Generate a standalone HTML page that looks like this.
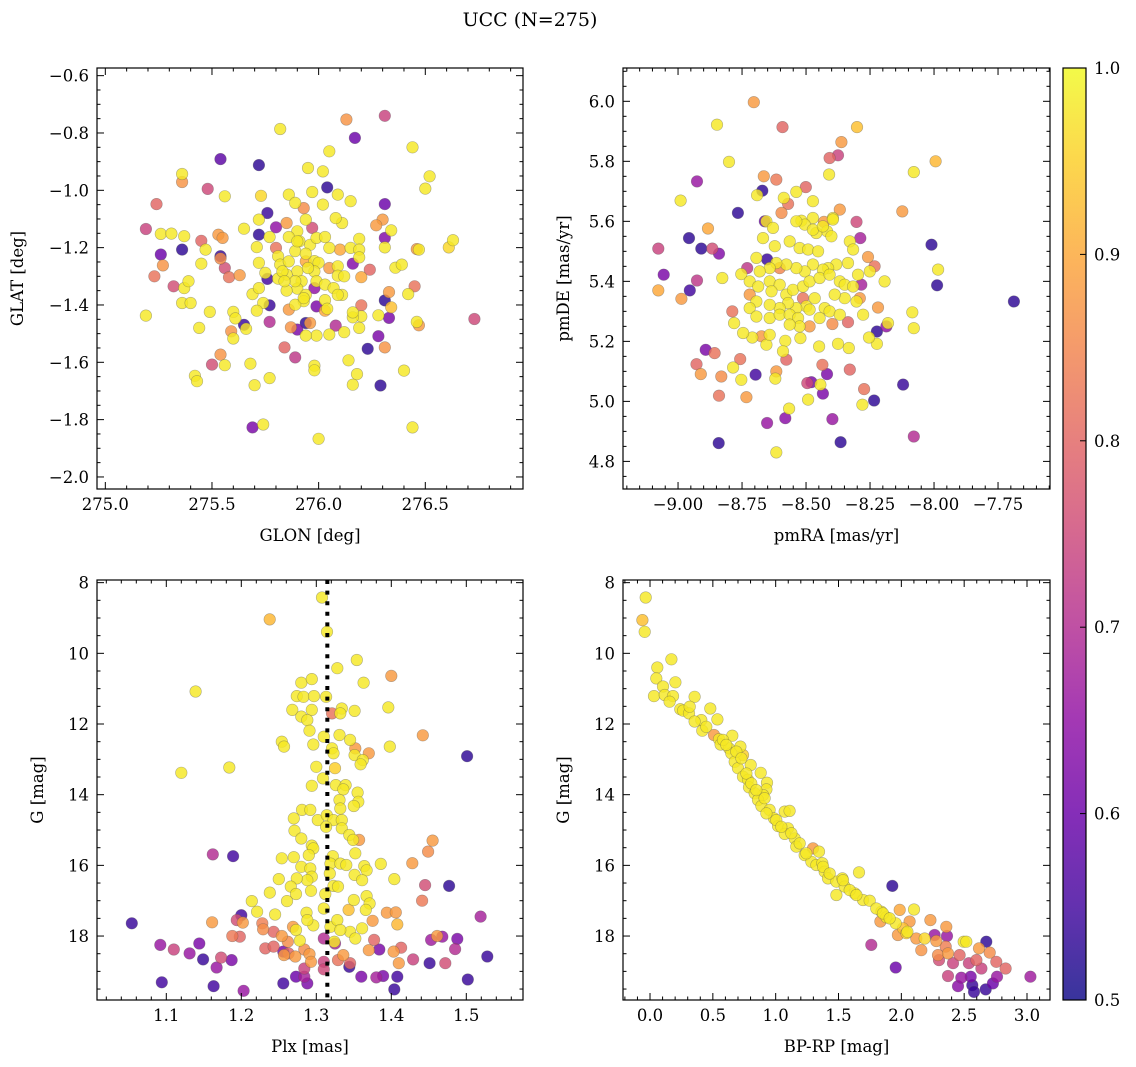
<!DOCTYPE html>
<html><head><meta charset="utf-8"><style>
html,body{margin:0;padding:0;background:#fff;}
svg{display:block;font-family:"DejaVu Serif","Liberation Serif",serif;}
</style></head><body>
<svg id="fig" width="1136" height="1067" viewBox="0 0 1136 1067" xmlns="http://www.w3.org/2000/svg">
<defs>
<linearGradient id="cbg" x1="0" y1="1" x2="0" y2="0">
<stop offset="0" stop-color="#0d0887"/><stop offset="0.1" stop-color="#41049d"/><stop offset="0.2" stop-color="#6a00a8"/><stop offset="0.3" stop-color="#8f0da4"/><stop offset="0.4" stop-color="#b12a90"/><stop offset="0.5" stop-color="#cc4778"/><stop offset="0.6" stop-color="#e16462"/><stop offset="0.7" stop-color="#f2844b"/><stop offset="0.8" stop-color="#fca636"/><stop offset="0.9" stop-color="#fcce25"/><stop offset="1" stop-color="#f0f921"/>
</linearGradient>
</defs>
<text x="530" y="26" text-anchor="middle" font-size="19">UCC (N=275)</text>
</svg>
<script>
const p1GLON=[276.31,276.13,275.82,276.17,276.44,276.05,275.54,275.72,275.95,276.02,276.52,275.36,275.36,276.50,275.48,276.04,275.56,275.73,275.86,275.97,276.09,276.15,276.31,275.24,275.89,276.02,275.76,275.93,275.94,276.11,276.08,276.30,276.27,276.34,275.72,275.65,275.19,275.26,275.31,275.37,275.53,275.55,275.72,275.80,275.85,275.90,275.97,276.31,276.31,276.19,276.46,276.47,276.63,276.61,275.45,275.47,275.26,275.36,275.54,275.54,275.71,275.77,275.80,275.81,275.86,275.91,275.96,275.99,276.03,276.05,276.10,276.15,276.19,276.19,276.16,275.27,275.45,275.56,275.58,275.63,275.72,275.75,275.76,275.82,275.86,275.89,275.94,275.98,276.00,276.05,276.09,275.98,275.90,275.85,275.81,275.92,275.99,276.09,276.12,276.20,276.24,276.36,276.39,275.23,275.32,275.37,275.39,276.03,276.07,276.11,276.09,275.90,275.94,275.98,275.85,275.69,275.72,276.03,275.99,275.93,275.89,275.86,275.74,275.77,275.71,276.03,276.04,276.45,276.42,276.33,276.31,276.34,276.33,276.28,276.31,276.23,276.28,276.20,276.20,276.16,276.16,276.19,276.12,276.08,276.05,275.99,275.94,275.96,275.94,275.90,275.87,275.77,275.65,275.66,275.60,275.61,275.59,275.60,275.49,275.44,275.19,275.36,275.40,276.46,276.47,276.73,275.84,275.89,275.98,275.98,276.14,275.54,275.50,275.56,275.68,275.42,275.43,275.77,275.70,276.18,276.16,276.29,276.40,275.69,275.74,276.44,276.00,275.90,275.94,275.83,275.95,275.89,275.93,275.84,275.98,275.88];
const p1GLAT=[-0.740,-0.753,-0.786,-0.817,-0.850,-0.864,-0.891,-0.912,-0.922,-0.934,-0.951,-0.943,-0.971,-0.994,-0.995,-0.990,-1.021,-1.019,-1.015,-1.006,-1.015,-1.038,-1.048,-1.048,-1.044,-1.050,-1.079,-1.062,-1.102,-1.114,-1.097,-1.102,-1.122,-1.140,-1.102,-1.134,-1.135,-1.152,-1.151,-1.160,-1.155,-1.166,-1.155,-1.129,-1.114,-1.143,-1.131,-1.166,-1.199,-1.169,-1.205,-1.207,-1.174,-1.199,-1.176,-1.207,-1.224,-1.207,-1.230,-1.238,-1.198,-1.163,-1.201,-1.230,-1.163,-1.178,-1.190,-1.166,-1.163,-1.201,-1.207,-1.201,-1.207,-1.234,-1.256,-1.262,-1.256,-1.271,-1.303,-1.296,-1.253,-1.288,-1.309,-1.259,-1.248,-1.212,-1.248,-1.247,-1.253,-1.271,-1.265,-1.283,-1.283,-1.294,-1.308,-1.317,-1.317,-1.298,-1.300,-1.303,-1.277,-1.270,-1.259,-1.300,-1.335,-1.341,-1.317,-1.329,-1.341,-1.365,-1.365,-1.343,-1.365,-1.341,-1.350,-1.362,-1.341,-1.383,-1.405,-1.387,-1.399,-1.416,-1.393,-1.401,-1.420,-1.420,-1.413,-1.335,-1.362,-1.355,-1.384,-1.408,-1.445,-1.509,-1.548,-1.553,-1.436,-1.401,-1.440,-1.443,-1.426,-1.480,-1.495,-1.472,-1.503,-1.507,-1.507,-1.463,-1.463,-1.486,-1.478,-1.459,-1.469,-1.483,-1.424,-1.447,-1.492,-1.517,-1.424,-1.480,-1.437,-1.393,-1.393,-1.459,-1.471,-1.449,-1.548,-1.583,-1.612,-1.628,-1.593,-1.573,-1.608,-1.610,-1.605,-1.647,-1.666,-1.655,-1.680,-1.641,-1.678,-1.681,-1.629,-1.827,-1.817,-1.827,-1.867,-1.178,-1.221,-1.283,-1.271,-1.317,-1.376,-1.317,-1.376,-1.376];
const p1Prob=[0.74,0.87,0.98,0.60,0.98,0.98,0.58,0.53,0.98,0.98,0.98,0.98,0.87,0.98,0.75,0.53,0.98,0.96,0.98,0.98,0.98,0.98,0.60,0.80,0.98,0.98,0.54,0.86,0.98,0.98,0.98,0.88,0.88,0.98,0.98,0.98,0.74,0.98,0.98,0.98,0.88,0.88,0.53,0.65,0.88,0.98,0.76,0.63,0.98,0.98,0.88,0.98,0.98,0.96,0.80,0.98,0.60,0.53,0.54,0.86,0.98,0.98,0.82,0.98,0.98,0.98,0.98,0.98,0.98,0.98,0.90,0.98,0.98,0.98,0.63,0.87,0.98,0.76,0.82,0.88,0.98,0.98,0.55,0.98,0.98,0.98,0.90,0.98,0.98,0.88,0.98,0.98,0.98,0.98,0.98,0.98,0.98,0.98,0.98,0.90,0.80,0.98,0.98,0.82,0.76,0.98,0.98,0.98,0.98,0.98,0.98,0.98,0.98,0.65,0.98,0.98,0.98,0.98,0.62,0.98,0.98,0.88,0.98,0.54,0.98,0.90,0.98,0.82,0.98,0.88,0.53,0.93,0.62,0.62,0.87,0.53,0.98,0.82,0.98,0.98,0.98,0.98,0.98,0.70,0.98,0.98,0.98,0.88,0.53,0.62,0.87,0.70,0.54,0.98,0.98,0.98,0.87,0.98,0.98,0.98,0.98,0.98,0.98,0.98,0.88,0.75,0.80,0.72,0.98,0.98,0.98,0.87,0.76,0.98,0.98,0.98,0.98,0.98,0.98,0.98,0.98,0.53,0.98,0.62,0.98,0.98,0.98,0.98,0.98,0.98,0.98,0.98,0.98,0.98];

const p2RA=[-8.704,-8.848,-8.592,-8.301,-8.362,-8.408,-8.375,-8.801,-7.994,-8.079,-8.41,-8.926,-8.665,-8.616,-8.671,-8.691,-8.538,-8.501,-8.587,-8.57,-8.473,-8.990,-8.368,-8.124,-8.766,-8.596,-8.661,-8.518,-8.473,-8.395,-8.303,-8.43,-8.883,-8.957,-9.077,-8.909,-8.866,-8.840,-8.01,-7.984,-7.988,-7.688,-9.056,-8.926,-9.077,-8.954,-8.987,-8.827,-8.753,-8.730,-8.652,-8.193,-8.219,-8.258,-8.232,-8.288,-8.085,-8.079,-8.18,-8.223,-8.186,-8.223,-8.254,-8.277,-8.336,-8.397,-8.333,-8.375,-8.449,-8.522,-8.581,-8.655,-8.710,-8.746,-8.781,-8.788,-8.590,-8.577,-8.892,-8.857,-8.928,-8.911,-8.785,-8.757,-8.753,-8.831,-8.840,-8.733,-8.697,-8.616,-8.620,-8.436,-8.418,-8.479,-8.495,-8.444,-8.434,-8.492,-8.566,-8.581,-8.652,-8.397,-8.329,-8.273,-8.280,-8.234,-8.121,-8.079,-8.365,-8.841,-8.616,-8.655,-8.629,-8.668,-8.622,-8.564,-8.525,-8.492,-8.453,-8.418,-8.401,-8.460,-8.505,-8.538,-8.473,-8.434,-8.395,-8.329,-8.316,-8.336,-8.382,-8.414,-8.434,-8.473,-8.505,-8.538,-8.577,-8.616,-8.642,-8.681,-8.694,-8.720,-8.687,-8.642,-8.603,-8.635,-8.577,-8.551,-8.512,-8.486,-8.447,-8.408,-8.368,-8.349,-8.316,-8.297,-8.251,-8.303,-8.349,-8.388,-8.427,-8.466,-8.499,-8.538,-8.570,-8.603,-8.642,-8.694,-8.720,-8.694,-8.642,-8.603,-8.564,-8.531,-8.486,-8.447,-8.408,-8.368,-8.525,-8.564,-8.642,-8.674,-8.603,-8.512,-8.290,-8.486,-8.720,-8.284,-8.590];
const p2DE=[5.997,5.922,5.914,5.914,5.864,5.811,5.820,5.798,5.800,5.764,5.756,5.733,5.750,5.739,5.702,5.687,5.698,5.714,5.678,5.658,5.667,5.669,5.639,5.633,5.628,5.628,5.600,5.602,5.611,5.611,5.598,5.598,5.576,5.544,5.509,5.509,5.509,5.492,5.522,5.439,5.387,5.333,5.422,5.403,5.370,5.370,5.342,5.411,5.424,5.444,5.473,5.400,5.313,5.481,5.450,5.544,5.297,5.244,5.261,5.233,5.250,5.192,5.213,5.289,5.264,5.258,5.178,5.192,5.183,5.211,5.202,5.189,5.213,5.228,5.261,5.300,5.167,5.139,5.172,5.161,5.124,5.091,5.113,5.141,5.072,5.083,5.019,5.014,5.089,5.100,5.076,5.122,5.091,5.064,5.061,5.056,5.026,5.006,4.976,4.944,4.928,4.941,5.106,5.041,4.989,5.003,5.056,4.883,4.864,4.861,4.830,5.600,5.578,5.544,5.517,5.533,5.511,5.506,5.500,5.567,5.550,5.561,5.589,5.600,5.572,5.583,5.606,5.533,5.506,5.461,5.456,5.444,5.439,5.456,5.433,5.444,5.456,5.461,5.444,5.433,5.478,5.400,5.383,5.400,5.389,5.367,5.356,5.372,5.383,5.400,5.411,5.422,5.400,5.389,5.383,5.422,5.433,5.333,5.344,5.356,5.311,5.344,5.317,5.311,5.328,5.311,5.322,5.333,5.311,5.283,5.278,5.289,5.289,5.278,5.306,5.278,5.300,5.289,5.250,5.256,5.222,5.217,5.444,5.344,5.344,5.250,5.356,5.389,5.378];
const p2Prob=[0.88,0.98,0.80,0.93,0.88,0.80,0.74,0.98,0.92,0.98,0.98,0.66,0.88,0.83,0.53,0.98,0.98,0.80,0.98,0.82,0.98,0.98,0.88,0.88,0.53,0.86,0.60,0.98,0.98,0.98,0.75,0.88,0.90,0.53,0.74,0.53,0.76,0.63,0.53,0.98,0.53,0.53,0.62,0.72,0.90,0.55,0.88,0.98,0.98,0.72,0.54,0.98,0.88,0.88,0.82,0.68,0.98,0.98,0.98,0.53,0.65,0.98,0.98,0.98,0.80,0.86,0.98,0.98,0.98,0.98,0.98,0.98,0.98,0.98,0.98,0.82,0.98,0.80,0.62,0.82,0.80,0.88,0.98,0.82,0.98,0.86,0.82,0.88,0.55,0.88,0.98,0.82,0.62,0.62,0.75,0.98,0.62,0.98,0.98,0.64,0.66,0.66,0.80,0.82,0.98,0.53,0.54,0.70,0.53,0.53,0.98,0.98,0.98,0.98,0.98,0.98,0.98,0.98,0.98,0.98,0.98,0.98,0.98,0.98,0.98,0.98,0.98,0.98,0.98,0.98,0.98,0.98,0.98,0.98,0.98,0.98,0.98,0.98,0.98,0.98,0.98,0.98,0.98,0.98,0.98,0.98,0.98,0.98,0.98,0.98,0.98,0.98,0.98,0.98,0.98,0.98,0.98,0.98,0.98,0.98,0.98,0.98,0.98,0.98,0.98,0.98,0.98,0.98,0.98,0.98,0.98,0.98,0.98,0.98,0.98,0.98,0.98,0.98,0.98,0.98,0.98,0.88,0.85,0.82,0.88,0.88,0.88,0.68];

const p3Plx=[1.3076,1.2378,1.3142,1.354,1.328,1.400,1.363,1.280,1.294,1.139,1.274,1.283,1.297,1.313,1.268,1.294,1.280,1.288,1.334,1.332,1.351,1.396,1.321,1.291,1.310,1.331,1.345,1.442,1.254,1.257,1.296,1.321,1.323,1.352,1.351,1.370,1.398,1.362,1.359,1.501,1.120,1.184,1.300,1.325,1.309,1.294,1.326,1.339,1.336,1.355,1.356,1.350,1.331,1.332,1.281,1.292,1.270,1.302,1.314,1.323,1.334,1.313,1.334,1.271,1.280,1.294,1.296,1.290,1.344,1.357,1.349,1.352,1.455,1.449,1.162,1.189,1.254,1.270,1.322,1.319,1.332,1.340,1.280,1.292,1.294,1.288,1.274,1.250,1.266,1.318,1.351,1.364,1.367,1.361,1.386,1.404,1.428,1.445,1.477,1.441,1.323,1.329,1.312,1.293,1.273,1.238,1.214,1.261,1.350,1.367,1.371,1.221,1.245,1.287,1.310,1.343,1.366,1.394,1.406,1.375,1.408,1.519,1.054,1.161,1.200,1.194,1.202,1.228,1.229,1.188,1.198,1.243,1.254,1.262,1.273,1.278,1.269,1.296,1.288,1.319,1.328,1.345,1.352,1.332,1.361,1.310,1.324,1.092,1.110,1.131,1.144,1.149,1.173,1.167,1.187,1.232,1.243,1.256,1.263,1.272,1.257,1.284,1.291,1.293,1.284,1.310,1.284,1.325,1.336,1.329,1.345,1.344,1.377,1.370,1.384,1.403,1.413,1.410,1.429,1.451,1.472,1.453,1.461,1.468,1.488,1.485,1.528,1.502,1.094,1.163,1.203,1.256,1.273,1.288,1.360,1.380,1.389,1.408,1.404,1.310];
const p3G=[8.42,9.04,9.39,10.19,10.42,10.64,10.83,10.83,10.73,11.08,11.21,11.23,11.21,11.23,11.60,11.60,11.79,11.89,11.56,11.70,11.63,11.53,11.70,12.19,12.36,12.31,12.45,12.32,12.50,12.64,12.58,12.69,12.83,12.69,12.88,12.83,12.64,13.02,13.14,12.91,13.38,13.23,13.21,13.25,13.54,13.75,13.73,13.73,13.85,13.94,14.20,14.32,14.15,14.39,14.43,14.43,14.67,14.72,14.58,14.72,14.72,14.91,14.95,15.02,15.24,15.44,15.52,15.71,15.14,15.28,15.28,15.66,15.30,15.61,15.69,15.74,15.80,15.77,15.74,15.95,15.95,15.99,16.04,16.09,16.32,16.42,16.37,16.39,16.60,16.23,16.27,16.02,16.14,16.42,15.96,16.39,15.94,16.56,16.58,17.00,16.58,16.60,16.81,16.72,16.81,16.77,17.01,17.01,16.98,16.87,17.08,17.31,17.39,17.34,17.22,17.26,17.26,17.34,17.33,17.57,17.67,17.45,17.64,17.61,17.41,17.55,17.62,17.64,17.81,18.00,18.02,17.88,18.00,18.16,17.83,18.13,17.74,17.70,17.55,17.74,17.55,17.88,18.07,17.83,17.78,18.07,18.16,18.25,18.38,18.49,18.21,18.66,18.61,18.89,18.68,18.35,18.30,18.44,18.49,18.58,18.54,18.38,18.51,18.73,18.92,18.73,19.15,18.21,18.54,18.68,18.77,18.87,18.11,18.40,18.38,18.44,18.33,18.77,18.66,18.77,18.77,18.11,18.00,18.02,18.08,18.37,18.58,19.23,19.31,19.42,19.55,19.34,19.15,19.34,19.15,19.17,19.13,19.15,19.51,18.94];
const p3Prob=[0.98,0.92,0.98,0.98,0.98,0.88,0.98,0.98,0.98,0.98,0.98,0.98,0.98,0.98,0.98,0.98,0.98,0.98,0.98,0.98,0.98,0.98,0.82,0.98,0.98,0.98,0.98,0.88,0.98,0.98,0.98,0.98,0.98,0.88,0.98,0.88,0.98,0.98,0.98,0.53,0.98,0.98,0.98,0.95,0.98,0.98,0.98,0.98,0.98,0.98,0.98,0.98,0.98,0.98,0.98,0.98,0.98,0.98,0.98,0.98,0.98,0.98,0.98,0.98,0.98,0.98,0.98,0.98,0.98,0.88,0.98,0.98,0.88,0.86,0.70,0.55,0.98,0.98,0.98,0.98,0.98,0.98,0.98,0.98,0.98,0.98,0.98,0.98,0.98,0.98,0.98,0.98,0.98,0.98,0.98,0.98,0.88,0.76,0.53,0.83,0.98,0.98,0.98,0.98,0.98,0.98,0.98,0.98,0.98,0.98,0.98,0.98,0.98,0.98,0.98,0.93,0.98,0.88,0.88,0.88,0.92,0.68,0.54,0.88,0.55,0.76,0.88,0.84,0.86,0.83,0.80,0.80,0.88,0.86,0.98,0.98,0.88,0.98,0.98,0.98,0.98,0.98,0.98,0.98,0.98,0.70,0.98,0.66,0.74,0.66,0.62,0.54,0.76,0.66,0.62,0.80,0.80,0.62,0.80,0.88,0.88,0.86,0.88,0.88,0.74,0.74,0.68,0.68,0.88,0.82,0.80,0.54,0.80,0.88,0.62,0.88,0.80,0.88,0.74,0.54,0.76,0.67,0.88,0.66,0.62,0.70,0.54,0.54,0.55,0.55,0.66,0.55,0.60,0.62,0.62,0.68,0.62,0.55,0.54,0.75];

const p4BPRP=[-0.034,-0.061,-0.042,0.170,0.058,0.050,0.202,0.103,0.032,0.117,0.183,0.156,0.355,0.241,0.263,0.310,0.480,0.536,0.408,0.355,0.416,0.509,0.549,0.562,0.655,0.629,0.719,0.740,0.647,0.674,0.700,0.801,0.881,0.740,0.780,0.788,0.931,0.926,0.899,0.833,0.859,0.886,0.952,1.072,1.111,0.987,1.019,1.098,1.072,1.151,1.164,1.231,1.297,1.345,1.284,1.324,1.371,1.390,1.416,1.483,1.531,1.549,1.483,1.663,1.629,1.695,1.748,1.928,1.841,1.881,1.833,1.987,2.101,1.955,2.013,2.066,2.048,1.973,2.119,2.186,2.159,2.231,2.265,2.278,2.292,2.358,2.363,2.353,2.371,2.300,2.411,2.496,2.517,2.464,2.538,2.618,2.676,2.703,2.597,2.637,2.756,2.830,1.761,1.955,2.371,2.451,2.477,2.552,2.565,2.578,2.671,2.729,2.761,3.027,0.316,0.448,0.581,0.607,0.687,0.727,0.767,0.806,0.846,0.912,0.926,1.005,1.045,1.125,1.191,1.244,1.377,1.430,1.536,1.589,1.642,1.801,1.854,1.907,2.040];
const p4G=[8.42,9.06,9.39,10.17,10.40,10.71,10.82,10.94,11.21,11.18,11.21,11.37,11.23,11.58,11.62,11.70,11.56,11.87,11.89,11.93,12.19,12.31,12.43,12.58,12.33,12.69,12.64,12.88,12.83,13.07,13.25,13.16,13.38,13.49,13.58,13.79,13.66,13.85,14.01,13.96,14.15,14.32,14.43,14.48,14.46,14.67,14.89,14.95,15.11,15.24,15.47,15.71,15.52,15.61,15.90,15.99,15.94,16.18,16.37,16.46,16.37,16.60,16.84,16.20,16.79,16.98,17.00,16.58,17.31,17.47,17.59,17.26,17.25,17.64,17.78,17.59,17.88,17.97,18.07,18.07,18.40,17.55,17.97,18.14,18.54,17.74,18.00,18.30,18.49,18.68,18.77,18.16,18.16,18.54,18.77,18.35,18.16,18.47,18.68,18.92,18.73,18.92,18.25,18.89,19.13,19.42,19.18,19.15,19.39,19.58,19.51,19.34,19.15,19.15,11.51,12.08,12.45,12.59,12.78,12.97,13.40,13.68,13.87,14.10,14.53,14.72,14.91,15.09,15.38,15.66,16.04,16.23,16.42,16.70,16.84,17.22,17.36,17.50,17.92];
const p4Prob=[0.98,0.93,0.98,0.98,0.98,0.98,0.98,0.98,0.98,0.98,0.98,0.98,0.98,0.98,0.98,0.98,0.98,0.98,0.98,0.98,0.98,0.88,0.98,0.98,0.98,0.98,0.98,0.95,0.98,0.98,0.98,0.98,0.98,0.98,0.98,0.98,0.98,0.98,0.98,0.98,0.98,0.98,0.98,0.98,0.98,0.98,0.98,0.98,0.98,0.98,0.98,0.98,0.88,0.98,0.98,0.98,0.98,0.98,0.98,0.98,0.98,0.98,0.98,0.98,0.98,0.98,0.98,0.53,0.98,0.98,0.88,0.90,0.98,0.98,0.93,0.88,0.98,0.88,0.88,0.96,0.87,0.88,0.66,0.88,0.86,0.88,0.66,0.84,0.88,0.76,0.74,0.98,0.98,0.80,0.74,0.88,0.53,0.86,0.80,0.74,0.80,0.80,0.70,0.60,0.74,0.64,0.66,0.62,0.54,0.54,0.54,0.60,0.66,0.67,0.98,0.98,0.98,0.98,0.98,0.98,0.98,0.98,0.98,0.98,0.98,0.98,0.98,0.98,0.98,0.98,0.98,0.98,0.98,0.98,0.98,0.98,0.98,0.98,0.95];

const plxMean=1.3147;
const cbTicks=[0.5,0.6,0.7,0.8,0.9,1.0];

const NS="http://www.w3.org/2000/svg";
const svg=document.getElementById('fig');
function mk(tag,attrs,parent){const e=document.createElementNS(NS,tag);for(const k in attrs)e.setAttribute(k,attrs[k]);(parent||svg).appendChild(e);return e;}
const stops=[[13,8,135],[65,4,157],[106,0,168],[143,13,164],[177,42,144],[204,71,120],[225,100,98],[242,132,75],[252,166,54],[252,206,37],[240,249,33]];
function cmap(p){if(typeof p!=='number'||isNaN(p))p=1;let t=(p-0.5)/0.5;t=Math.max(0,Math.min(1,t));const f=t*10;const i=Math.min(9,Math.floor(f));const u=f-i;const a=stops[i],b=stops[i+1];return 'rgb('+[0,1,2].map(k=>Math.round(a[k]+(b[k]-a[k])*u)).join(',')+')';}
function fmt(v,d){const s=Math.abs(v).toFixed(d);return (v<-1e-9?'\u2212':'')+s;}

function panel(cfg){
  const {name,x0,x1,y0,y1,xmin,xmax,ymin,ymax,xs,ys,ps}=cfg;
  const sx=v=>x0+(v-xmin)/(xmax-xmin)*(x1-x0);
  const sy=cfg.invertY ? (v=>y0+(v-ymin)/(ymax-ymin)*(y1-y0)) : (v=>y0+(ymax-v)/(ymax-ymin)*(y1-y0));
  const g=mk('g',{});
  
  
  const clipId='clip-'+name;
  const cp=mk('clipPath',{id:clipId},g);mk('rect',{x:x0,y:y0,width:x1-x0,height:y1-y0},cp);
  const pts=mk('g',{'clip-path':'url(#'+clipId+')'},g);
  
  
  const n=Math.min(xs.length,ys.length,ps.length);
  const idx=[];for(let i=0;i<n;i++)idx.push(i);
  idx.sort((a,b)=>ps[a]-ps[b]);
  idx.forEach(i=>{
    const c=mk('circle',{cx:sx(xs[i]).toFixed(1),cy:sy(ys[i]).toFixed(1),r:5.8,fill:cmap(ps[i]),'fill-opacity':0.82,stroke:'#555','stroke-opacity':0.45,'stroke-width':0.6},pts);
    
    
  });
  if(cfg.vline!==undefined){
    const l=mk('line',{x1:sx(cfg.vline),x2:sx(cfg.vline),y1:y0,y2:y1,stroke:'#000','stroke-width':4,'stroke-dasharray':'4 6.6'},g);
    
    
  }
  const fr=mk('rect',{x:x0,y:y0,width:x1-x0,height:y1-y0,fill:'none',stroke:'#000','stroke-width':1.2},g);
  
  
  const tk=mk('g',{stroke:'#000','stroke-width':1},g);
  const eps=1e-9;
  const nx0=Math.ceil((xmin-eps)/cfg.xminor);
  for(let k=nx0; k*cfg.xminor<=xmax+eps; k++){
    const v=k*cfg.xminor;
    const major=Math.abs(v/cfg.xmajor-Math.round(v/cfg.xmajor))<1e-6;
    const L=major?7:3.5; const X=sx(v);
    mk('line',{x1:X,x2:X,y1:y1,y2:y1-L},tk);mk('line',{x1:X,x2:X,y1:y0,y2:y0+L},tk);
    if(major){const t=mk('text',{x:X,y:y1+21,'text-anchor':'middle','font-size':16.5},g);t.textContent=fmt(v,cfg.xdec);
      
      }
  }
  const ny0=Math.ceil((ymin-eps)/cfg.yminor);
  for(let k=ny0; k*cfg.yminor<=ymax+eps; k++){
    const v=k*cfg.yminor;
    const major=Math.abs(v/cfg.ymajor-Math.round(v/cfg.ymajor))<1e-6;
    const L=major?7:3.5; const Y=sy(v);
    mk('line',{x1:x0,x2:x0+L,y1:Y,y2:Y},tk);mk('line',{x1:x1,x2:x1-L,y1:Y,y2:Y},tk);
    if(major){const t=mk('text',{x:x0-8,y:Y+6,'text-anchor':'end','font-size':16.5},g);t.textContent=fmt(v,cfg.ydec);
      
      }
  }
  const xl=mk('text',{x:(x0+x1)/2,y:y1+52,'text-anchor':'middle','font-size':16.5},g);xl.textContent=cfg.xlabel;
  
  
  const yc=(y0+y1)/2;
  const yl=mk('text',{x:cfg.ylx,y:yc,'text-anchor':'middle','font-size':16.5,transform:'rotate(-90 '+cfg.ylx+' '+yc+')'},g);yl.textContent=cfg.ylabel;
  
  
}

panel({name:'glon-glat-panel',x0:97,x1:523,y0:68,y1:489,xmin:274.961,xmax:276.958,ymin:-2.042,ymax:-0.5733,xs:p1GLON,ys:p1GLAT,ps:p1Prob,xmajor:0.5,xminor:0.1,ymajor:0.2,yminor:0.05,xdec:1,ydec:1,xlabel:'GLON [deg]',ylabel:'GLAT [deg]',ylx:23});
panel({name:'proper-motion-panel',x0:623,x1:1050,y0:68,y1:489,xmin:-9.215,xmax:-7.547,ymin:4.708,ymax:6.111,xs:p2RA,ys:p2DE,ps:p2Prob,xmajor:0.25,xminor:0.05,ymajor:0.2,yminor:0.05,xdec:2,ydec:1,xlabel:'pmRA [mas/yr]',ylabel:'pmDE [mas/yr]',ylx:569});
panel({name:'parallax-panel',x0:97,x1:523,y0:580,y1:1000,xmin:1.0076,xmax:1.5756,ymin:7.925,ymax:19.81,invertY:true,xs:p3Plx,ys:p3G,ps:p3Prob,xmajor:0.1,xminor:0.02,ymajor:2,yminor:0.5,xdec:1,ydec:0,xlabel:'Plx [mas]',ylabel:'G [mag]',ylx:43,vline:plxMean});
panel({name:'cmd-panel',x0:623,x1:1050,y0:580,y1:1000,xmin:-0.215,xmax:3.183,ymin:7.925,ymax:19.81,invertY:true,xs:p4BPRP,ys:p4G,ps:p4Prob,xmajor:0.5,xminor:0.1,ymajor:2,yminor:0.5,xdec:1,ydec:0,xlabel:'BP-RP [mag]',ylabel:'G [mag]',ylx:569});

(function(){
  const cx0=1063,cx1=1086,cy0=68,cy1=1000;
  const g=mk('g',{});
  
  
  mk('rect',{x:cx0,y:cy0,width:cx1-cx0,height:cy1-cy0,fill:'url(#cbg)','fill-opacity':0.82},g);
  mk('rect',{x:cx0,y:cy0,width:cx1-cx0,height:cy1-cy0,fill:'none',stroke:'#000','stroke-width':1.2},g);
  const sy=v=>cy1-(v-0.5)/0.5*(cy1-cy0);
  cbTicks.forEach(v=>{
    const Y=sy(v);
    mk('line',{x1:cx1,x2:cx1-6,y1:Y,y2:Y,stroke:'#000','stroke-width':1},g);
    const t=mk('text',{x:cx1+8,y:Y+6,'font-size':16.5},g);t.textContent=v.toFixed(1);
    
    
  });
})();
</script>
</body></html>
